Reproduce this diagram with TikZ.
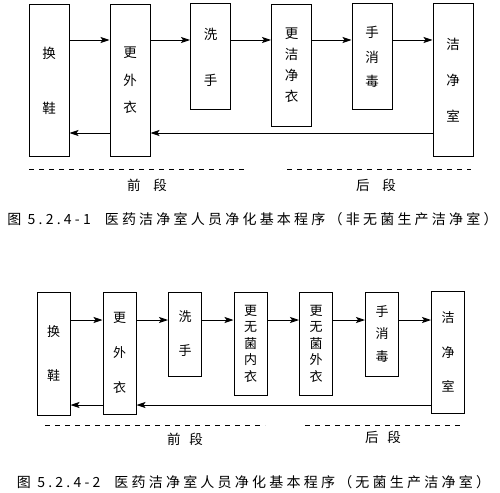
\documentclass[tikz,border=0pt]{standalone}
\usepackage{fontspec}
\usepackage{tikz}
\usetikzlibrary{arrows.meta,positioning}
\newfontfamily\cjk{Noto Sans CJK SC}
\newfontfamily\capcjk[LetterSpace=23]{Noto Sans CJK SC}
\tikzset{
  stagebox/.style={draw=black,line width=1pt,inner sep=0pt,align=center,
                   minimum width=40pt,font=\cjk\fontsize{13.5}{16}\selectfont},
  narrowbox/.style={stagebox,minimum width=33pt,font=\cjk\fontsize{13}{16.5}\selectfont},
  flowarr/.style={-{Stealth[length=9pt,width=6pt,inset=2pt]},line width=0.9pt},
  segline/.style={dash pattern=on 5pt off 5pt,line width=0.9pt},
  seglabel/.style={font=\cjk\fontsize{13.5}{15}\selectfont,inner sep=0pt},
  figcap/.style={font=\capcjk\fontsize{14}{16}\selectfont,inner sep=0pt}
}

\begin{document}
\begin{tikzpicture}[x=1pt,y=-1pt]
  \fill[white] (0,0) rectangle (500,492);
  \useasboundingbox (0,0) rectangle (500,492);
  % non-sterile
  \node[stagebox,minimum height=151pt] (a1) at (49,80.5) {换\\[39pt]鞋};
  \node[stagebox,minimum height=151pt] (a2) at (130,80.5) {更\\[11.5pt]外\\[11.5pt]衣};
  \node[stagebox,minimum height=106pt] (a3) at (210.5,57) {洗\\[30pt]手};
  \node[stagebox,minimum height=121pt] (a4) at (291.5,65.5) {更\\[5pt]洁\\[5pt]净\\[5pt]衣};
  \node[stagebox,minimum height=106pt] (a5) at (372,57) {手\\[8.5pt]消\\[8.5pt]毒};
  \node[stagebox,minimum height=152pt] (a6) at (453,80) {洁\\[20pt]净\\[20pt]室};
  \coordinate (afwd) at (0,40);
  \coordinate (aback) at (0,133);
  \foreach \i/\j in {a1/a2,a2/a3,a3/a4,a4/a5,a5/a6}
    \draw[flowarr] (\i.east|-afwd) -- (\j.west|-afwd);
  \draw[flowarr] (a6.west|-aback) -- (a2.east|-aback);
  \draw[flowarr] (a2.west|-aback) -- (a1.east|-aback);
  \draw[segline] (29,169) -- (248,169);
  \draw[segline] (287,169) -- (471,169);
  \node[seglabel] (afront) at (147,185) {前\hspace{13pt}段};
  \node[seglabel] (arear) at (376,185) {后\hspace{13pt}段};
  \node[figcap] (acap) at (252.5,219) {图 5.2.4-1\hspace{14pt}医药洁净室人员净化基本程序（非无菌生产洁净室）};
  % sterile
  \node[narrowbox,minimum height=123pt] (b1) at (53.5,353.5) {换\\[27.5pt]鞋};
  \node[narrowbox,minimum height=122pt] (b2) at (119.5,353) {更\\[18.5pt]外\\[18.5pt]衣};
  \node[narrowbox,minimum height=84pt] (b3) at (185,334) {洗\\[17.5pt]手};
  \node[narrowbox,minimum height=103pt] (b4) at (250.5,343.5) {更\\无\\菌\\内\\衣};
  \node[narrowbox,minimum height=103pt] (b5) at (316,343.5) {更\\无\\菌\\外\\衣};
  \node[narrowbox,minimum height=84pt] (b6) at (382,334) {手\\[6pt]消\\[6pt]毒};
  \node[narrowbox,minimum height=122pt] (b7) at (448,352) {洁\\[18pt]净\\[18pt]室};
  \coordinate (bfwd) at (0,320);
  \coordinate (bback) at (0,405);
  \foreach \i/\j in {b1/b2,b2/b3,b3/b4,b4/b5,b5/b6,b6/b7}
    \draw[flowarr] (\i.east|-bfwd) -- (\j.west|-bfwd);
  \draw[flowarr] (b7.west|-bback) -- (b2.east|-bback);
  \draw[flowarr] (b2.west|-bback) -- (b1.east|-bback);
  \draw[segline] (45,425) -- (265,425);
  \draw[segline] (305,425) -- (464,425);
  \node[seglabel] (bfront) at (185,439) {前\hspace{9pt}段};
  \node[seglabel] (brear) at (383,437) {后\hspace{9pt}段};
  \node[figcap] (bcap) at (253.5,482) {图 5.2.4-2\hspace{14pt}医药洁净室人员净化基本程序（无菌生产洁净室）};
\end{tikzpicture}
\end{document}
